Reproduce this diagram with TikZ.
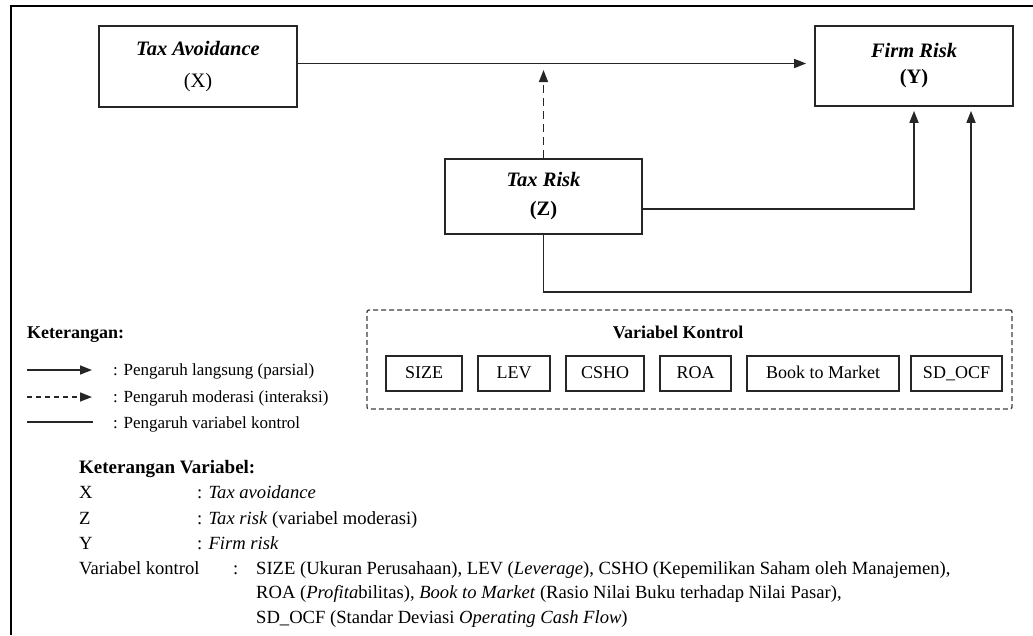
\documentclass[tikz,border=0pt]{standalone}
\usepackage{fontspec}
\setmainfont{Liberation Serif}
\usetikzlibrary{arrows.meta,positioning,fit,backgrounds}

\begin{document}
\begin{tikzpicture}[x=1pt, y=-1pt,
  every node/.style={inner sep=0pt, font=\fontsize{18.6}{22}\selectfont},
  var/.style={draw=black!85, line width=1.7pt, minimum width=198pt, align=center, font=\fontsize{20.5}{24}\selectfont},
  ctrl/.style={draw=black!85, line width=1.5pt, outer sep=0pt, minimum height=35pt, text height=12pt, text depth=2pt, font=\fontsize{18}{21}\selectfont},
  link/.style={line width=1.6pt, draw=black!85, -{Triangle[length=12pt,width=9pt]}},
  lbl/.style={anchor=base west, font=\fontsize{17}{20}\selectfont},
  row/.style={anchor=base west}]
\useasboundingbox (0,0) rectangle (1033,635);
\draw[line width=2.8pt] (11,635) -- (11,6) -- (1033,6);

\node[var, minimum height=81pt] (X) at (198,66.5) {\textbf{\textit{Tax Avoidance}}\\[8pt](X)};
\node[var, minimum height=80pt] (Y) at (914,66) {\textbf{\textit{Firm Risk}}\\[2pt]\textbf{(Y)}};
\node[var, minimum width=197pt, minimum height=75pt] (Z) at (543.5,196.5) {\textbf{\textit{Tax Risk}}\\[5pt]\textbf{(Z)}};

\coordinate (modtip) at (543.5,70);
\coordinate (bend) at (971,292);
\draw[link, shorten >=8pt] ([yshift=3pt]X.east) -- ([yshift=3pt]X.east -| Y.west);
\draw[link, dash pattern=on 8pt off 5pt] (Z.north) -- (modtip);
\draw[link, shorten >=4pt] ([yshift=-12.5pt]Z.east) -| (Y.south);
\draw[link, shorten >=4pt] (Z.south) |- (bend) -- (bend |- Y.south);

% variabel kontrol
\node[ctrl, minimum width=76pt] (size) at (424,373.5) {SIZE};
\node[ctrl, minimum width=72pt, right=16pt of size] (lev) {LEV};
\node[ctrl, minimum width=78pt, right=16pt of lev] (csho) {CSHO};
\node[ctrl, minimum width=71pt, right=16pt of csho] (roa) {ROA};
\node[ctrl, minimum width=152pt, right=16pt of roa] (btm) {Book to Market};
\node[ctrl, minimum width=91pt, right=12pt of btm] (sdocf) {SD\_OCF};
\node[anchor=base, font=\bfseries\fontsize{18}{21}\selectfont] (ktitle) at (678,338) {Variabel Kontrol};
\coordinate (kul) at (367,310);
\coordinate (kbr) at (1012,409);
\begin{scope}[on background layer]
  \node[draw=black!75, line width=1.3pt, dash pattern=on 5pt off 3pt, rounded corners=2pt, fit=(kul)(kbr)] (kontrol) {};
\end{scope}

% keterangan
\node[row, font=\bfseries\fontsize{18}{21}\selectfont] (ket) at (27,338) {Keterangan:};
\coordinate (la1) at (27,370); \coordinate (lb1) at (92,370);
\coordinate (la2) at (27,397); \coordinate (lb2) at (92,397);
\coordinate (la3) at (27,422); \coordinate (lb3) at (93,422);
\draw[link] (la1) -- (lb1);
\draw[link, dash pattern=on 5pt off 4pt] (la2) -- (lb2);
\draw[line width=1.6pt, draw=black!85] (la3) -- (lb3);
\node[lbl] (t1) at (113,375) {: Pengaruh langsung (parsial)};
\node[lbl] (t2) at (113,402) {: Pengaruh moderasi (interaksi)};
\node[lbl] (t3) at (113,428) {: Pengaruh variabel kontrol};

\node[row, font=\bfseries\fontsize{19}{22}\selectfont] (kvar) at (79,473) {Keterangan Variabel:};
\node[row] (vx) at (79,498) {X};
\node[row] (vz) at (79,524) {Z};
\node[row] (vy) at (79,549) {Y};
\node[row] (vk) at (79,574) {Variabel kontrol};
\node[row] (dx) at (197,498) {: \textit{Tax avoidance}};
\node[row] (dz) at (197,524) {: \textit{Tax risk} (variabel moderasi)};
\node[row] (dy) at (197,549) {: \textit{Firm risk}};
\node[row] (dk) at (233,574) {:};
\node[row] (k1) at (256,574) {SIZE (Ukuran Perusahaan), LEV (\textit{Leverage}), CSHO (Kepemilikan Saham oleh Manajemen),};
\node[row] (k2) at (256,598) {ROA (\textit{Profita}bilitas), \textit{Book to Market} (Rasio Nilai Buku terhadap Nilai Pasar),};
\node[row] (k3) at (256,623) {SD\_OCF (Standar Deviasi \textit{Operating Cash Flow})};
\end{tikzpicture}
\end{document}
